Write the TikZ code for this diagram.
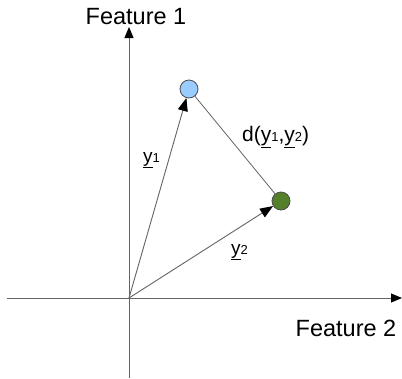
\documentclass[tikz,border=0pt]{standalone}
\usepackage{fontspec}
\setmainfont{Liberation Sans}
\usetikzlibrary{arrows.meta}
\definecolor{axisgray}{RGB}{100,100,100}
\definecolor{bluept}{RGB}{153,204,255}
\definecolor{greenpt}{RGB}{83,128,40}
\newcommand{\vy}[1]{\underline{y}{\fontsize{13}{13}\selectfont #1}}
\begin{document}
\begin{tikzpicture}[x=1pt,y=-1pt,
  axis/.style={draw=axisgray,line width=0.9pt,-{Triangle[length=11pt,width=9pt,color=black]}},
  vec/.style={draw=axisgray,line width=0.9pt,-{Triangle[length=13pt,width=10pt,color=black]}},
  pt/.style={circle,draw=black!70,line width=0.8pt,minimum size=18pt,inner sep=0pt},
  lbl/.style={inner sep=0pt,font=\fontsize{23.5}{25}\selectfont},
  vlbl/.style={inner sep=0pt,font=\fontsize{19}{21}\selectfont}]
\useasboundingbox (0,0) rectangle (402,378);
\fill[white] (0,0) rectangle (402,378);
\coordinate (o) at (129,298);
\coordinate (xl) at (7,298);
\coordinate (xr) at (402,298);
\coordinate (yb) at (129,378);
\coordinate (yt) at (129,27);
\node[pt,fill=bluept] (p1) at (189,89) {};
\node[pt,fill=greenpt] (p2) at (281,201) {};
\draw[axis] (xl) -- (xr);
\draw[axis] (yb) -- (yt);
\draw[vec] (o) -- (p1);
\draw[vec] (o) -- (p2);
\draw[draw=axisgray,line width=0.8pt] (p1) -- (p2);
\node[lbl] (f1) at (136,17) {Feature 1};
\node[lbl] (f2) at (346,328) {Feature 2};
\node[vlbl,anchor=west] (l1) at (143,160) {\vy{1}};
\node[vlbl,anchor=west] (l2) at (231,252) {\vy{2}};
\node[vlbl,anchor=west,font=\fontsize{21}{23}\selectfont] (d) at (242,137) {d(\vy{1},\vy{2})};
\end{tikzpicture}
\end{document}
